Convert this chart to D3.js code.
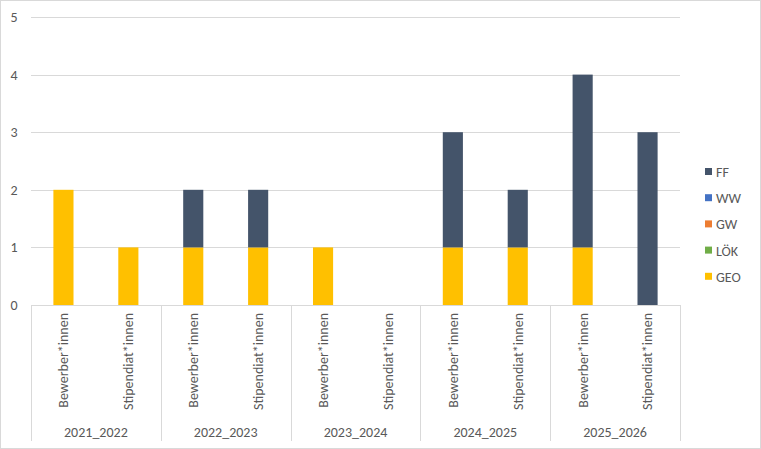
<!DOCTYPE html>
<html>
<head>
<meta charset="utf-8">
<title>Bewerber und Stipendiaten</title>
<script src="https://cdn.jsdelivr.net/npm/d3@7"></script>
<style>
  body { margin: 0; background: #fff; }
  text { font-family: Calibri, Carlito, "Open Sans", sans-serif; fill: #595959; }
</style>
</head>
<body>
<div id="chart"></div>
<script>
var W = 761, H = 449;

// categories
var years = ["2021_2022", "2022_2023", "2023_2024", "2024_2025", "2025_2026"];
var groups = ["Bewerber*innen", "Stipendiat*innen"];

// series values, one per bar (year x group order)
var GEO = [2, 1, 1, 1, 1, 0, 1, 1, 1, 0];
var LOEK = [0, 0, 0, 0, 0, 0, 0, 0, 0, 0];
var GW = [0, 0, 0, 0, 0, 0, 0, 0, 0, 0];
var WW = [0, 0, 0, 0, 0, 0, 0, 0, 0, 0];
var FF = [0, 0, 1, 1, 0, 0, 2, 1, 3, 3];

var seriesNames = ["GEO", "LÖK", "GW", "WW", "FF"];
var seriesColors = ["#FFC000", "#70AD47", "#ED7D31", "#4472C4", "#44546A"];
var yTicks = [0, 1, 2, 3, 4, 5];

// build rows for the stack
var rows = [];
years.forEach(function(yr, i) {
  groups.forEach(function(g, j) {
    var k = i * 2 + j;
    rows.push({ key: yr + "|" + g, year: yr, group: g,
      "GEO": GEO[k], "LÖK": LOEK[k], "GW": GW[k], "WW": WW[k], "FF": FF[k] });
  });
});

var plotL = 31, plotR = 680, plotT = 17, plotB = 305;

var svg = d3.select("#chart").append("svg")
  .attr("width", W).attr("height", H);

svg.append("rect")
  .attr("x", 0.5).attr("y", 0.5)
  .attr("width", W - 1).attr("height", H - 1)
  .attr("fill", "#fff").attr("stroke", "#d9d9d9");

var x = d3.scaleBand()
  .domain(rows.map(function(d) { return d.key; }))
  .range([plotL, plotR])
  .paddingInner(0.69).paddingOuter(0.345);

var y = d3.scaleLinear().domain([0, 5]).range([plotB, plotT]);

// gridlines
svg.append("g").selectAll("line")
  .data(yTicks.filter(function(t) { return t > 0; }))
  .enter().append("line")
  .attr("x1", plotL).attr("x2", plotR)
  .attr("y1", function(d) { return Math.round(y(d)) + 0.5; })
  .attr("y2", function(d) { return Math.round(y(d)) + 0.5; })
  .attr("stroke", "#d9d9d9").attr("stroke-width", 1);

// y labels
svg.append("g").selectAll("text")
  .data(yTicks)
  .enter().append("text")
  .attr("x", 14)
  .attr("y", function(d) { return y(d); })
  .attr("dy", "0.35em")
  .attr("text-anchor", "middle")
  .attr("font-size", "14px")
  .text(function(d) { return d; });

// bars
var stack = d3.stack().keys(seriesNames);
var layers = stack(rows);

svg.append("g").selectAll("g")
  .data(layers)
  .enter().append("g")
  .attr("fill", function(d, i) { return seriesColors[i]; })
  .selectAll("rect")
  .data(function(d) { return d; })
  .enter().append("rect")
  .attr("x", function(d) { return x(d.data.key); })
  .attr("width", x.bandwidth())
  .attr("y", function(d) { return y(d[1]); })
  .attr("height", function(d) { return y(d[0]) - y(d[1]); });

// x axis line
svg.append("line")
  .attr("x1", plotL).attr("x2", plotR)
  .attr("y1", plotB + 0.5).attr("y2", plotB + 0.5)
  .attr("stroke", "#d9d9d9");

// group separators
var yearBand = d3.scaleBand().domain(years).range([plotL, plotR]);
var seps = years.map(function(d) { return yearBand(d); }).concat([plotR]);
svg.append("g").selectAll("line")
  .data(seps)
  .enter().append("line")
  .attr("x1", function(d) { return Math.round(d) + 0.5; })
  .attr("x2", function(d) { return Math.round(d) + 0.5; })
  .attr("y1", plotB).attr("y2", 441)
  .attr("stroke", "#d9d9d9");

// category labels (rotated)
svg.append("g").selectAll("text")
  .data(rows)
  .enter().append("text")
  .attr("transform", function(d) {
    return "translate(" + (x(d.key) + x.bandwidth() / 2) + "," + 313 + ") rotate(-90)";
  })
  .attr("dy", "0.35em")
  .attr("text-anchor", "end")
  .attr("font-size", "14px")
  .text(function(d) { return d.group; });

// year labels
svg.append("g").selectAll("text")
  .data(years)
  .enter().append("text")
  .attr("x", function(d) { return yearBand(d) + yearBand.bandwidth() / 2; })
  .attr("y", 432)
  .attr("dy", "0.35em")
  .attr("text-anchor", "middle")
  .attr("font-size", "14px")
  .text(function(d) { return d; });

// legend
var legendOrder = seriesNames.slice().reverse();
var legendColors = seriesColors.slice().reverse();
var lg = svg.append("g").selectAll("g")
  .data(legendOrder)
  .enter().append("g")
  .attr("transform", function(d, i) { return "translate(705," + (172 + i * 26.2) + ")"; });
lg.append("rect")
  .attr("x", 0).attr("y", -4)
  .attr("width", 7).attr("height", 7)
  .attr("fill", function(d, i) { return legendColors[i]; });
lg.append("text")
  .attr("x", 11).attr("y", 0)
  .attr("dy", "0.35em")
  .attr("font-size", "14px")
  .text(function(d) { return d; });
</script>
</body>
</html>
